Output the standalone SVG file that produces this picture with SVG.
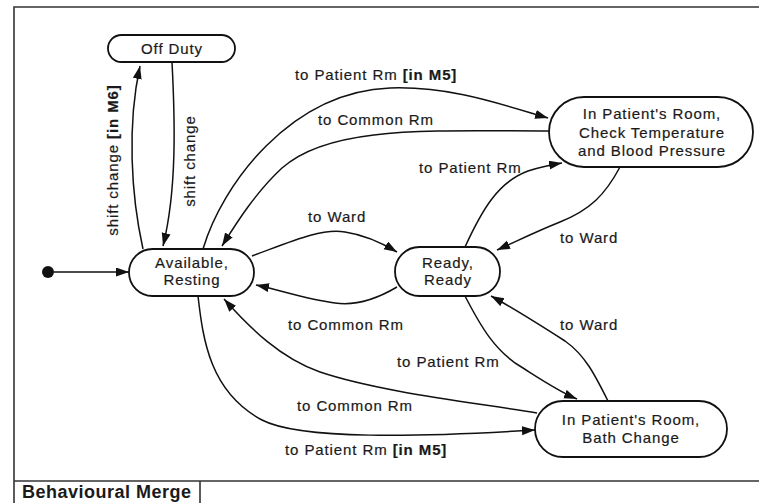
<svg xmlns="http://www.w3.org/2000/svg" width="759" height="503" viewBox="0 0 759 503">
  <style>
    text { font-family: "Liberation Sans", Arial, sans-serif; font-size: 15px; letter-spacing: 0.9px; fill: #1a1a1a; stroke: #1a1a1a; stroke-width: 0.2; }
    .state rect { fill: #ffffff; stroke: #111111; stroke-width: 1.8; }
    .state text { text-anchor: middle; }
    .edge { fill: none; stroke: #111111; stroke-width: 1.5; }
    .arrow { marker-end: url(#head); }
    .frame { fill: none; stroke: #333333; stroke-width: 1.6; }
    .guard { font-weight: bold; }
    .title { font-weight: bold; font-size: 18px; letter-spacing: 0.5px; stroke: none; }
  </style>
  <defs>
    <marker id="head" markerUnits="userSpaceOnUse" markerWidth="14" markerHeight="10" refX="13" refY="4.5" orient="auto">
      <path d="M0,0 L13,4.5 L0,9 z" fill="#111111"/>
    </marker>
  </defs>

  <rect width="759" height="503" fill="#ffffff"/>

  <!-- frame and title tab -->
  <g id="frame">
    <path class="frame" d="M14,503 L14,7 L762,7"/>
    <path class="frame" d="M14,481 L762,481 M200,481 L200,503"/>
    <text class="title" x="22" y="498">Behavioural Merge</text>
  </g>

  <!-- transitions -->
  <g id="connectors">
    <circle cx="48" cy="272" r="6" fill="#111111"/>
    <path class="edge arrow" d="M54,272 L129,272"/>

    <!-- Available <-> Off Duty -->
    <path class="edge arrow" d="M143,249 C131,195 127,125 140,66"/>
    <path class="edge arrow" d="M172,62 C175,120 177,190 163,246"/>

    <!-- Available <-> Check Temperature room -->
    <path class="edge arrow" d="M203,249 C222,185 290,92 390,88 C450,86 500,104 548,118"/>
    <path class="edge arrow" d="M549,131 C430,131 330,125 282,168 C256,192 237,222 222,246"/>

    <!-- Available <-> Ready -->
    <path class="edge arrow" d="M252,256 C290,242 320,228 345,232 C365,235 382,243 397,252"/>
    <path class="edge arrow" d="M397,287 C375,300 355,306 335,303 C305,299 280,290 256,285"/>

    <!-- Ready <-> Check Temperature room -->
    <path class="edge arrow" d="M465,247 C482,210 498,182 528,171 C540,167 550,165 562,163"/>
    <path class="edge arrow" d="M620,167 C605,195 590,210 560,222 C535,232 515,242 497,250"/>

    <!-- Ready <-> Bath Change room -->
    <path class="edge arrow" d="M465,296 C480,325 495,352 523,368 C545,382 560,392 577,399"/>
    <path class="edge arrow" d="M608,401 C595,375 585,355 565,341 C540,325 515,309 491,296"/>

    <!-- Available <-> Bath Change room -->
    <path class="edge arrow" d="M537,413 C470,402 380,392 320,372 C280,358 250,328 224,299"/>
    <path class="edge arrow" d="M198,296 C203,340 210,392 262,420 C300,440 420,437 535,430"/>
  </g>

  <!-- transition labels -->
  <g id="labels">
    <text x="295" y="80">to Patient Rm <tspan class="guard">[in M5]</tspan></text>
    <text x="318" y="125">to Common Rm</text>
    <text x="419" y="173">to Patient Rm</text>
    <text x="308" y="222">to Ward</text>
    <text x="560" y="243">to Ward</text>
    <text x="288" y="330">to Common Rm</text>
    <text x="560" y="330">to Ward</text>
    <text x="397" y="367">to Patient Rm</text>
    <text x="297" y="411">to Common Rm</text>
    <text x="285" y="455">to Patient Rm <tspan class="guard">[in M5]</tspan></text>
    <text x="118" y="160" text-anchor="middle" transform="rotate(-90 118 160)">shift change <tspan class="guard">[in M6]</tspan></text>
    <text x="195" y="161" text-anchor="middle" transform="rotate(-90 195 161)">shift change</text>
  </g>

  <!-- states -->
  <g id="off-duty" class="state">
    <rect x="108" y="35" width="127" height="27" rx="13.5"/>
    <text x="172" y="54">Off Duty</text>
  </g>
  <g id="available-resting" class="state">
    <rect x="129" y="249" width="125" height="47" rx="23.5"/>
    <text x="192" y="268">Available,</text>
    <text x="192" y="285">Resting</text>
  </g>
  <g id="ready-ready" class="state">
    <rect x="395" y="247" width="105" height="49" rx="24.5"/>
    <text x="448" y="268">Ready,</text>
    <text x="448" y="285">Ready</text>
  </g>
  <g id="check-temperature" class="state">
    <rect x="549" y="97" width="204" height="70" rx="35"/>
    <text x="652" y="119">In Patient's Room,</text>
    <text x="652" y="138">Check Temperature</text>
    <text x="652" y="156">and Blood Pressure</text>
  </g>
  <g id="bath-change" class="state">
    <rect x="535" y="401" width="192" height="56" rx="28"/>
    <text x="631" y="425">In Patient's Room,</text>
    <text x="631" y="443">Bath Change</text>
  </g>
</svg>
